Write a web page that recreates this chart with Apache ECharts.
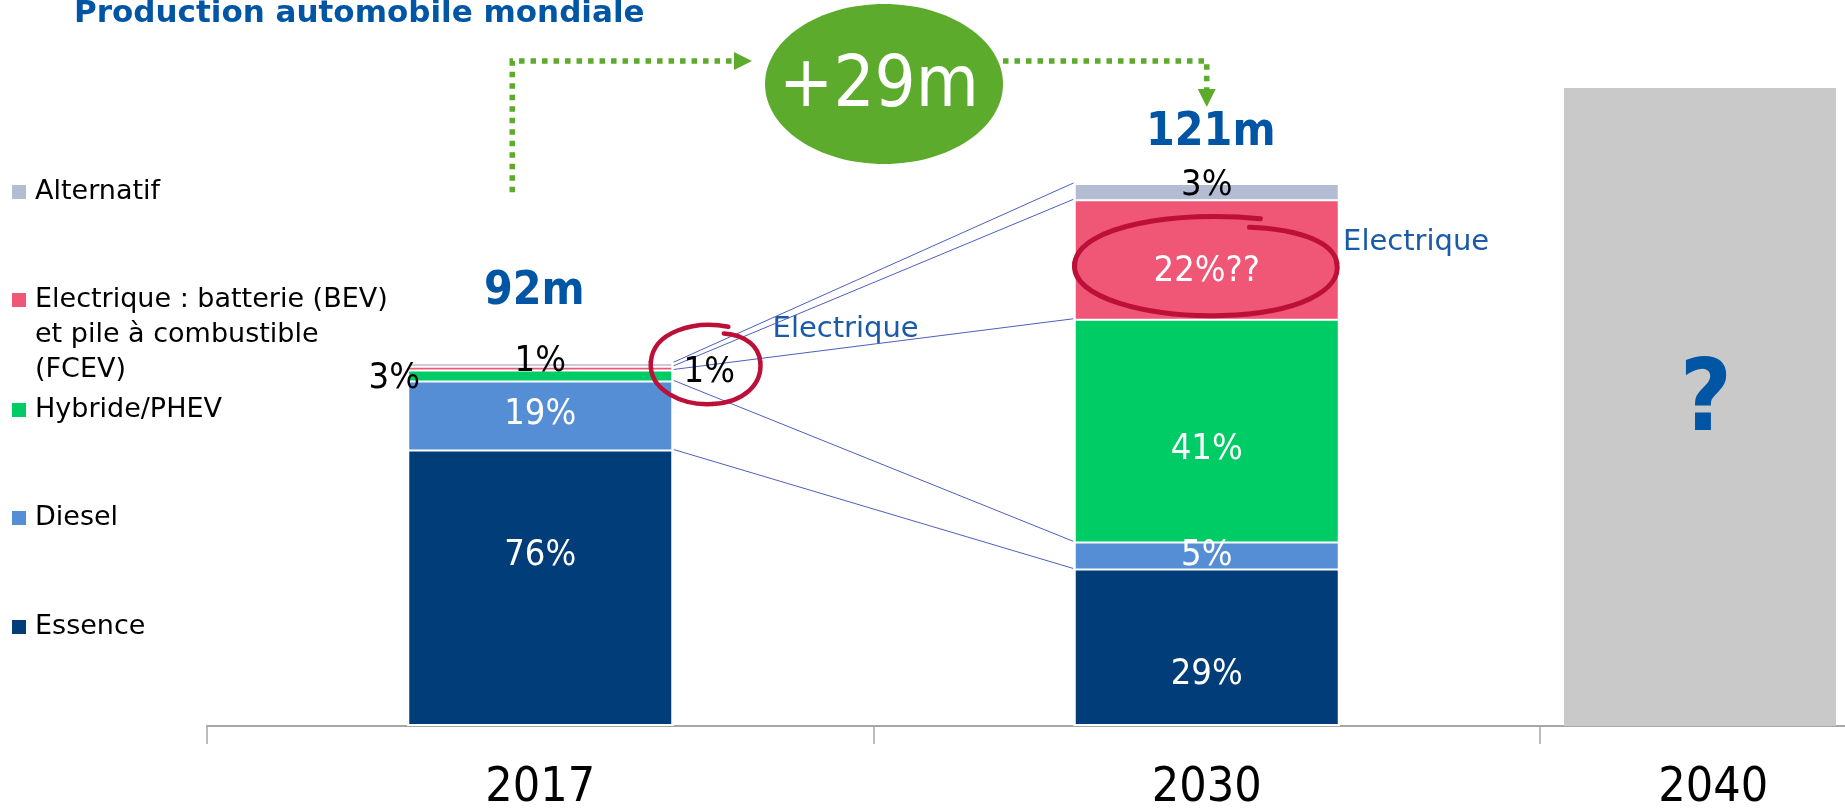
<!DOCTYPE html>
<html>
<head>
<meta charset="utf-8">
<title>Production automobile mondiale</title>
<script src="https://cdn.jsdelivr.net/npm/echarts@6/dist/echarts.min.js"></script>
<style>
  html, body { margin: 0; padding: 0; background: #fff; }
  #chart { width: 1845px; height: 812px; }
</style>
</head>
<body>
<div id="chart"></div>
<script>
'use strict';

// values
var years = ['2017', '2030', '2040'];
var totals = [92, 121];                  // millions of vehicles, shown above the bars
var segments = ['Essence', 'Diesel', 'Hybride/PHEV',
    'Electrique : batterie (BEV)\net pile à combustible\n(FCEV)', 'Alternatif'];
var share2017 = [76, 19, 3, 1, 1];       // % of the 2017 bar
var share2030 = [29, 5, 41, 22, 3];      // % of the 2030 bar
var doubt2030 = ['', '', '', '??', ''];  // the 22% is questioned on the slide
var barHeight = [67, 100];               // drawn height of the two bars (2030 = 100)
var barHeight2040 = 117.5;               // empty grey bar for 2040

var colors = ['#003d79', '#558ed5', '#00cc66', '#f05675', '#b4bcd4'];
var BLUE = '#0055a5';
var GREEN = '#5cab2c';
var RED = '#bd1038';
var NARROW = '"DejaVu Sans Condensed", "Liberation Sans Narrow", "Liberation Sans", sans-serif';
var ROUND = '"DejaVu Sans", sans-serif';

// layout on the value x axis (one tick per unit, 666.5px per unit)
var xMax = 2.4576;
var slotX = [0.5, 1.5, 2.24];
var yearLabelX = [0.5, 1.5, 2.26];
var halfBar = 0.2;

var shares = [share2017, share2030];

// where each percentage label sits (anchor: -1 left edge, 0 centre, 1 right edge)
var segLabel = [
    [
        { anchor: 0, position: 'inside', offset: [0, -32], color: '#fff' },
        { anchor: 0, position: 'inside', offset: [0, 0], color: '#fff' },
        { anchor: -1, position: 'left', distance: -13, offset: [0, 4], color: '#000' },
        { anchor: 1, position: 'right', distance: 10, offset: [0, 5], color: '#000' },
        { anchor: 0, position: 'inside', offset: [0, -2], color: '#000' }
    ],
    [
        { anchor: 0, position: 'inside', offset: [0, 27], color: '#fff' },
        { anchor: 0, position: 'inside', offset: [0, 1], color: '#fff' },
        { anchor: 0, position: 'inside', offset: [0, 20], color: '#fff' },
        { anchor: 0, position: 'inside', offset: [0, 13], color: '#fff' },
        { anchor: 0, position: 'inside', offset: [0, -6], color: '#000' }
    ]
];
var totalOffset = [[-6, -70], [4, -50]];

function cum(arr, n) {
    var s = 0;
    for (var i = 0; i < n; i++) s += arr[i];
    return s;
}
function midY(b, s) {
    return (cum(shares[b], s) + shares[b][s] / 2) * barHeight[b] / 100;
}

// each segment is a bar from 0 up to its cumulative top; lower segments are drawn over higher ones
var segSeries = [];
for (var s = segments.length - 1; s >= 0; s--) {
    segSeries.push({
        name: segments[s],
        type: 'bar',
        barWidth: 266,
        barGap: '-100%',
        silent: true,
        itemStyle: { color: colors[s], borderColor: '#fff', borderWidth: 2 },
        data: [0, 1].map(function (b) {
            return [slotX[b], cum(shares[b], s + 1) * barHeight[b] / 100];
        })
    });
}

var pctLabels = [];
[0, 1].forEach(function (b) {
    segments.forEach(function (name, s) {
        var spec = segLabel[b][s];
        pctLabels.push({
            value: [slotX[b] + spec.anchor * halfBar, midY(b, s)],
            itemStyle: { color: spec.color, opacity: 1 },
            label: {
                position: spec.position,
                distance: spec.distance || 0,
                offset: spec.offset,
                color: spec.color,
                formatter: shares[b][s] + '%' + (b === 1 ? doubt2030[s] : '')
            }
        });
    });
});

var connectors = [1, 2, 3, 4, 5].map(function (k) {
    return {
        coords: [
            [slotX[0] + halfBar, cum(share2017, k) * barHeight[0] / 100],
            [slotX[1] - halfBar, cum(share2030, k) * barHeight[1] / 100]
        ]
    };
});

var legendTop = [609.5, 500.5, 392.5, 282.5, 174.5];
var legends = segments.map(function (name, s) {
    var tall = s === 3;
    return {
        data: [{
            name: name,
            icon: tall ? 'path://M0,0H14V14H0Z M18,84H18.01V84.01Z'
                       : 'path://M0,0H14V14H0Z M18,14H18.01V14.01Z'
        }],
        left: 12,
        top: legendTop[s],
        padding: 0,
        itemWidth: 18,
        itemHeight: tall ? 84 : 14,
        selectedMode: false,
        itemStyle: { borderWidth: 0 },
        textStyle: { fontFamily: ROUND, fontSize: 27, lineHeight: 35, color: '#000' }
    };
});

var chart = echarts.init(document.getElementById('chart'));

var option = {
    animation: false,
    backgroundColor: '#fff',
    title: {
        text: 'Production automobile mondiale',
        left: 74,
        top: -2,
        padding: 0,
        textStyle: { color: BLUE, fontFamily: ROUND, fontWeight: 'bold', fontSize: 31, lineHeight: 31 }
    },
    legend: legends,
    grid: { left: 207, right: 0, top: 88, bottom: 86 },
    xAxis: [
        {
            type: 'value', min: 0, max: xMax, interval: 1,
            axisLine: { show: true, lineStyle: { color: '#a6a6a6', width: 2 } },
            axisTick: { show: true, length: 18, customValues: [0, 1, 2], lineStyle: { color: '#a6a6a6', width: 1.5 } },
            axisLabel: { show: false },
            splitLine: { show: false }
        },
        { type: 'value', min: 0, max: xMax, show: false }
    ],
    yAxis: { type: 'value', min: 0, max: barHeight2040, show: false },
    series: segSeries.concat([
        {
            type: 'bar',
            xAxisIndex: 1,
            barWidth: 272,
            silent: true,
            itemStyle: { color: '#c9c9c9' },
            label: {
                show: true, position: 'inside', formatter: '?', offset: [6, -3],
                color: BLUE, fontFamily: NARROW, fontWeight: 'bold', fontSize: 100
            },
            data: [[slotX[2], barHeight2040]]
        },
        {
            type: 'lines',
            coordinateSystem: 'cartesian2d',
            silent: true,
            z: 1,
            lineStyle: { color: '#4d5fbf', width: 1, opacity: 1 },
            data: connectors
        },
        {
            type: 'scatter',
            symbolSize: 0,
            clip: false,
            silent: true,
            z: 5,
            itemStyle: { opacity: 1 },
            label: { show: true, fontFamily: NARROW, fontSize: 36, textBorderWidth: 0 },
            data: pctLabels
        },
        {
            type: 'scatter',
            symbolSize: 0,
            clip: false,
            silent: true,
            z: 5,
            itemStyle: { color: BLUE, opacity: 1 },
            label: {
                show: true, position: 'inside', color: BLUE, textBorderWidth: 0,
                fontFamily: NARROW, fontWeight: 'bold', fontSize: 46
            },
            data: totals.map(function (t, b) {
                return {
                    value: [slotX[b], barHeight[b]],
                    label: { formatter: t + 'm', offset: totalOffset[b] }
                };
            })
        },
        {
            type: 'scatter',
            symbolSize: 0,
            clip: false,
            silent: true,
            itemStyle: { color: '#000', opacity: 1 },
            label: {
                show: true, position: 'inside', offset: [0, 63], formatter: '{b}', textBorderWidth: 0,
                color: '#000', fontFamily: NARROW, fontSize: 48
            },
            data: years.map(function (y, i) {
                return { name: y, value: [yearLabelX[i], 0] };
            })
        }
    ])
};

chart.setOption(option);

// hand-drawn annotations, anchored on the bars
function px(pt) {
    return chart.convertToPixel({ xAxisIndex: 0, yAxisIndex: 0 }, pt);
}
var SCRIBBLE = [[70, 6], [40, -2], [4, 12], [2, 48], [0, 82], [30, 100], [56, 98],
    [84, 96], [100, 74], [98, 48], [97, 30], [86, 16], [66, 14]];
function scribble(cx, cy, w, h, lw) {
    function P(i) {
        return [cx - w / 2 + SCRIBBLE[i][0] / 100 * w, cy - h / 2 + SCRIBBLE[i][1] / 100 * h];
    }
    var els = [];
    for (var k = 0; k < 4; k++) {
        var p0 = P(3 * k), c1 = P(3 * k + 1), c2 = P(3 * k + 2), p1 = P(3 * k + 3);
        els.push({
            type: 'bezierCurve',
            shape: { x1: p0[0], y1: p0[1], cpx1: c1[0], cpy1: c1[1], cpx2: c2[0], cpy2: c2[1], x2: p1[0], y2: p1[1] },
            style: { fill: 'none', stroke: RED, lineWidth: lw, lineCap: 'round' },
            z: 10
        });
    }
    return els;
}

var e17 = px([slotX[0] + halfBar, midY(0, 3)]);
var e30 = px([slotX[1], midY(1, 3)]);
var r30 = px([slotX[1] + halfBar, midY(1, 3)]);
var top17 = px([slotX[0], barHeight[0]]);
var top30 = px([slotX[1], barHeight[1]]);
var dash = { stroke: GREEN, lineWidth: 5.5, lineDash: [5.5, 6], fill: 'none' };

var graphics = [].concat(
    scribble(e17[0] + 32, e17[1] - 4, 114, 84, 4.5),
    scribble(e30[0] - 1, e30[1] + 6, 273, 105, 5),
    [
        {
            type: 'text',
            style: { text: 'Electrique', x: e17[0] + 99, y: e17[1] - 38, align: 'left', verticalAlign: 'middle',
                font: '29px ' + ROUND, fill: '#1a5aa6' }
        },
        {
            type: 'text',
            style: { text: 'Electrique', x: r30[0] + 3, y: e30[1] - 17, align: 'left', verticalAlign: 'middle',
                font: '29px ' + ROUND, fill: '#1a5aa6' }
        },
        {
            type: 'polyline',
            shape: { points: [[top17[0] - 28, top17[1] - 170], [top17[0] - 28, 61], [740, 61]] },
            style: dash
        },
        {
            type: 'polygon',
            shape: { points: [[734, 52], [752, 61], [734, 70]] },
            style: { fill: GREEN }
        },
        {
            type: 'ellipse',
            shape: { cx: 884, cy: 84, rx: 119, ry: 80 },
            style: { fill: GREEN }
        },
        {
            type: 'text',
            style: { text: '+' + (totals[1] - totals[0]) + 'm', x: 879, y: 87, align: 'center', verticalAlign: 'middle',
                font: '72px ' + NARROW, fill: '#fff' }
        },
        {
            type: 'polyline',
            shape: { points: [[1003, 61], [top30[0], 61], [top30[0], 90]] },
            style: dash
        },
        {
            type: 'polygon',
            shape: { points: [[top30[0] - 9, 89], [top30[0] + 9, 89], [top30[0], top30[1] - 76]] },
            style: { fill: GREEN }
        }
    ]
);

chart.setOption({ graphic: graphics });
</script>
</body>
</html>
